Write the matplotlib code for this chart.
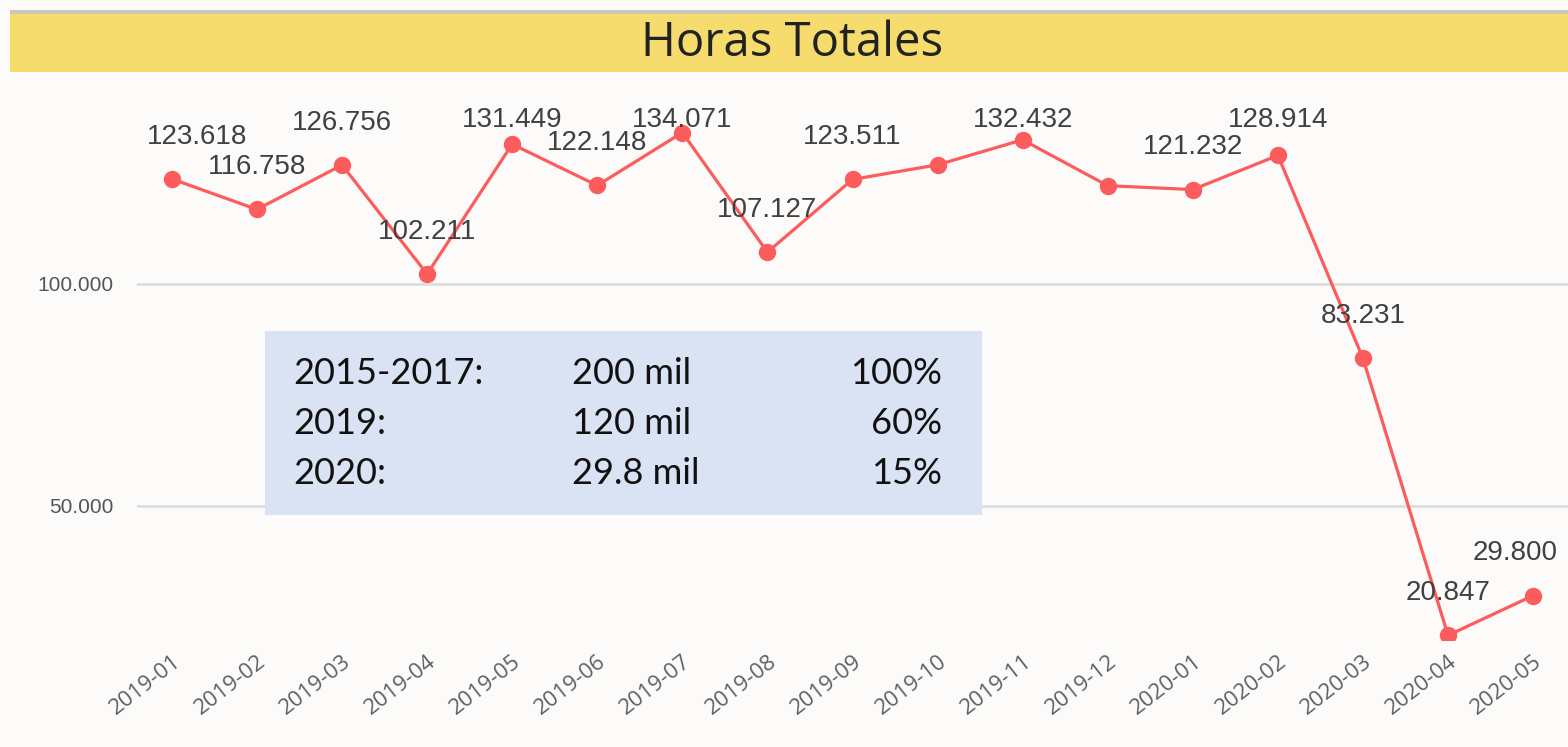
import numpy as np
import matplotlib.pyplot as plt
from matplotlib.patches import Rectangle

# Datos (horas totales por mes)
meses = ['2019-01', '2019-02', '2019-03', '2019-04', '2019-05', '2019-06',
         '2019-07', '2019-08', '2019-09', '2019-10', '2019-11', '2019-12',
         '2020-01', '2020-02', '2020-03', '2020-04', '2020-05']
horas = [123618, 116758, 126756, 102211, 131449, 122148,
         134071, 107127, 123511, 126800, 132432, 122100,
         121232, 128914, 83231, 20847, 29800]
# etiquetas que se ven en el original (Power BI oculta algunas)
mostrar_etiqueta = [True, True, True, True, True, True,
                    True, True, True, False, True, False,
                    True, True, True, True, True]

# Cuadro resumen
resumen_periodo = ['2015-2017:', '2019:', '2020:']
resumen_horas = ['200 mil', '120 mil', '29.8 mil']
resumen_pct = ['100%', '60%', '15%']

W, H = 1568, 747
fondo = '#fcfbfa'
rojo = '#fd5c5c'


def fx(px):
    return px / W


def fy(py):
    return 1 - py / H


fig = plt.figure(figsize=(W / 100, H / 100), dpi=100)
fig.patch.set_facecolor(fondo)

# Barra del titulo
fig.patches.append(Rectangle((fx(10), fy(14)), 1, 4 / H, transform=fig.transFigure,
                             facecolor='#c9c6c0', edgecolor='none'))
fig.patches.append(Rectangle((fx(10), fy(72)), 1, 58 / H, transform=fig.transFigure,
                             facecolor='#f6dc6c', edgecolor='none'))
fig.text(fx(792), fy(43), 'Horas Totales', ha='center', va='center',
         fontsize=34, family='Open Sans', color='#222222')

ax = fig.add_axes([fx(137), fy(640), 1 - fx(137), fy(80) - fy(640)])
ax.set_facecolor(fondo)

x = np.arange(len(meses))
ax.plot(x, horas, color=rojo, lw=2.3, marker='o', ms=11.5, zorder=3)

ax.set_xlim(-0.41, len(meses) - 1 + 0.41)
ax.set_ylim(19800, 145900)
ax.set_yticks([50000, 100000])
ax.set_yticklabels(['50.000', '100.000'], fontsize=15, color='#555555',
                   family='Liberation Sans')
ax.grid(axis='y', color='#dcdcdc', lw=1.8)
ax.set_axisbelow(True)
ax.tick_params(axis='y', length=0, pad=17)
ax.tick_params(axis='x', length=0, pad=8)
ax.set_xticks(x)
ax.set_xticklabels(meses, rotation=38, ha='right', va='top', rotation_mode='anchor',
                   fontsize=16, color='#606060', family='Open Sans')
for s in ax.spines.values():
    s.set_visible(False)

# Etiquetas de datos (se mantienen dentro del area del grafico)
tope = 137000
x_min, x_max = ax.get_xlim()
for i, (xi, v) in enumerate(zip(x, horas)):
    if not mostrar_etiqueta[i]:
        continue
    ty = min(v + 9500, tope)
    texto = f'{v:,}'.replace(',', '.')
    if i == 0:
        tx, ha = x_min + 0.12, 'left'
    elif i == len(horas) - 1:
        tx, ha = x_max - 0.12, 'right'
    else:
        tx, ha = xi, 'center'
    ax.text(tx, ty, texto, ha=ha, va='center', fontsize=20,
            color='#404040', family='Liberation Sans', zorder=4)

# Cuadro resumen
fig.patches.append(Rectangle((fx(265), fy(515)), fx(982) - fx(265), fy(331) - fy(515),
                             transform=fig.transFigure, facecolor='#dae3f3',
                             edgecolor='none', zorder=5))
for j in range(len(resumen_periodo)):
    yy = fy(373 + j * 50)
    fig.text(fx(293), yy, resumen_periodo[j], ha='left', va='center', fontsize=26,
             family='Lato', color='#111111', zorder=6)
    fig.text(fx(572), yy, resumen_horas[j], ha='left', va='center', fontsize=26,
             family='Lato', color='#111111', zorder=6)
    fig.text(fx(942), yy, resumen_pct[j], ha='right', va='center', fontsize=26,
             family='Lato', color='#111111', zorder=6)

fig.savefig('out.png', dpi=100, facecolor=fondo)
